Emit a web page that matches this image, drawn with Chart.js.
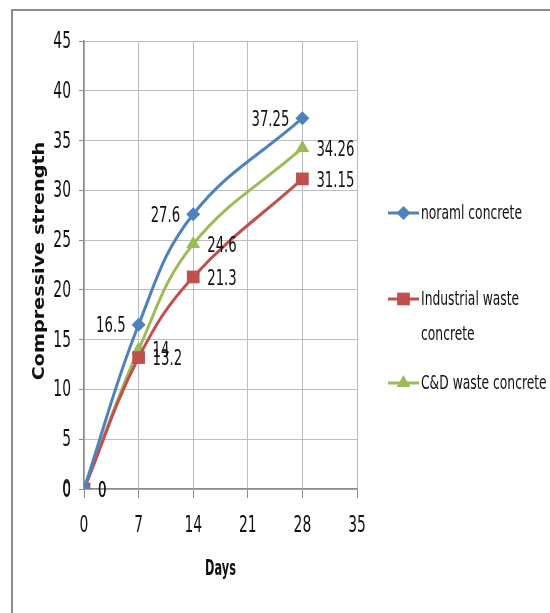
<!DOCTYPE html>
<html><head><meta charset="utf-8">
<script src="https://cdn.jsdelivr.net/npm/chart.js@4.4.1/dist/chart.umd.min.js"></script>
<style>
html,body{margin:0;padding:0;background:#fff;overflow:hidden}
#wrap{position:relative;width:550px;height:613px;overflow:hidden}
#frame{position:absolute;left:11px;top:9px;width:600px;height:700px;border:2px solid #8c8c8c;box-sizing:border-box}
canvas{position:absolute;left:0;top:0}
</style></head><body>
<div id="wrap"><div id="frame"></div><canvas id="c" width="550" height="613"></canvas></div>
<script>
// ---- data ----
const days = [0, 7, 14, 28];
const normalConcrete = [0, 16.5, 27.6, 37.25];
const industrialWaste = [0, 13.2, 21.3, 31.15];
const cdWaste = [0, 14, 24.6, 34.26];
const seriesNames = ['noraml concrete', 'Industrial waste concrete', 'C&D waste concrete'];
const legendLines = [['noraml concrete'], ['Industrial waste', 'concrete'], ['C&D waste concrete']];
const xTicks = [0, 7, 14, 21, 28, 35];
const yTicks = [0, 5, 10, 15, 20, 25, 30, 35, 40, 45];
const xTitle = 'Days';
const yTitle = 'Compressive strength';

const NARROW = "'DejaVu Sans Condensed','Liberation Sans Narrow',sans-serif";
const colors = ['#4F81BD', '#C0504D', '#9BBB59'];
const styles = ['rectRot', 'rect', 'triangle'];
const radii = [7, 9, 8];
const labelSide = ['left', 'right', 'right'];
const SX = 0.67;

function pts(vals) { return days.map((d, i) => ({ x: d, y: vals[i] })); }
const allSeries = [normalConcrete, industrialWaste, cdWaste];

const datasets = allSeries.map((vals, i) => ({
  label: seriesNames[i],
  data: pts(vals),
  borderColor: colors[i],
  backgroundColor: colors[i],
  borderWidth: 3,
  pointStyle: styles[i],
  pointRadius: radii[i],
  pointBorderWidth: 0,
  pointBackgroundColor: colors[i],
  tension: 0.4,
  fill: false
}));

function txt(ctx, s, x, y, align, font, sx, sy, rot) {
  ctx.save();
  ctx.translate(x, y);
  if (rot) ctx.rotate(rot);
  ctx.scale(sx, sy || 1);
  ctx.font = font;
  ctx.textAlign = align;
  ctx.textBaseline = 'middle';
  ctx.fillStyle = '#111';
  ctx.fillText(s, 0, 0);
  ctx.restore();
}

const axisTextPlugin = {
  id: 'axisText',
  afterDraw(chart) {
    const ctx = chart.ctx;
    const xs = chart.scales.x, ys = chart.scales.y;
    const f = '23px ' + NARROW;
    yTicks.forEach(v => txt(ctx, String(v), 71, ys.getPixelForValue(v) + 1, 'right', f, SX));
    xTicks.forEach(v => txt(ctx, String(v), xs.getPixelForValue(v), 526, 'center', f, SX));
    const ca = chart.chartArea;
    txt(ctx, xTitle, (ca.left + ca.right) / 2, 570, 'center', 'bold 21px ' + NARROW, 0.6);
    txt(ctx, yTitle, 40, 261, 'center', "bold 15px 'DejaVu Sans',Verdana,sans-serif", 1.28, 1, -Math.PI / 2);
  }
};

const labelPlugin = {
  id: 'valueLabels',
  afterDatasetsDraw(chart) {
    const ctx = chart.ctx;
    const f = '22px ' + NARROW;
    chart.data.datasets.forEach((ds, i) => {
      const meta = chart.getDatasetMeta(i);
      meta.data.forEach((el, j) => {
        const v = String(allSeries[i][j]);
        if (labelSide[i] === 'left') txt(ctx, v, el.x - 13, el.y + 2, 'right', f, SX);
        else txt(ctx, v, el.x + 14, el.y + 2, 'left', f, SX);
      });
    });
  }
};

const legendPlugin = {
  id: 'customLegend',
  afterDraw(chart) {
    const ctx = chart.ctx;
    const ys = [213, 299, 383];
    ys.forEach((y, i) => {
      ctx.save();
      ctx.strokeStyle = colors[i];
      ctx.lineWidth = 3;
      ctx.beginPath(); ctx.moveTo(388, y); ctx.lineTo(419, y); ctx.stroke();
      ctx.fillStyle = colors[i];
      Chart.helpers.drawPoint(ctx, { pointStyle: styles[i], radius: radii[i], borderWidth: 0 }, 403.5, y);
      ctx.restore();
      legendLines[i].forEach((t, k) => txt(ctx, t, 421, y + 1 + k * 35, 'left', '20px ' + NARROW, 0.685));
    });
  }
};

new Chart(document.getElementById('c'), {
  type: 'line',
  data: { datasets },
  plugins: [labelPlugin, legendPlugin, axisTextPlugin],
  options: {
    responsive: false,
    animation: false,
    layout: { padding: { left: 0, top: 41, right: 193, bottom: 0 } },
    plugins: { legend: { display: false }, tooltip: { enabled: false } },
    scales: {
      x: {
        type: 'linear', min: 0, max: 35,
        afterBuildTicks(s) { s.ticks = xTicks.map(v => ({ value: v })); },
        afterFit(s) { s.height = 124; },
        ticks: { display: false },
        grid: { color: '#bdbdbd', lineWidth: 1, tickLength: 9, drawTicks: true, tickColor: '#8c8c8c' },
        border: { color: '#8c8c8c', width: 1.5 }
      },
      y: {
        type: 'linear', min: 0, max: 45,
        afterBuildTicks(s) { s.ticks = yTicks.map(v => ({ value: v })); },
        afterFit(s) { s.width = 84; },
        ticks: { display: false },
        grid: { color: '#bdbdbd', lineWidth: 1, tickLength: 5, tickColor: '#8c8c8c' },
        border: { color: '#8c8c8c', width: 1.5 }
      }
    }
  }
});
</script>
</body></html>
